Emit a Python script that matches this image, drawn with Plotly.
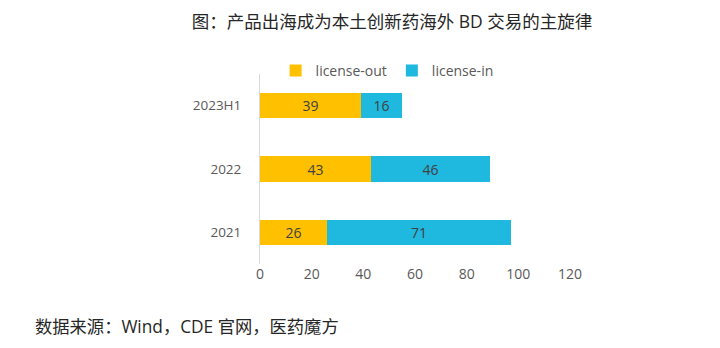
import plotly.graph_objects as go

categories = ["2021", "2022", "2023H1"]
license_out = [26, 43, 39]
license_in = [71, 46, 16]
x_ticks = [0, 20, 40, 60, 80, 100, 120]

FONT = "Open Sans, Noto Sans CJK SC, sans-serif"
LABEL_COLOR = "#404040"

fig = go.Figure()
fig.add_trace(go.Bar(
    y=categories, x=license_out, name="license-out", orientation="h",
    marker=dict(color="#FFC000", line=dict(width=0)),
    text=license_out, textposition="inside", insidetextanchor="middle",
    textfont=dict(size=14, color=LABEL_COLOR, family=FONT),
))
fig.add_trace(go.Bar(
    y=categories, x=license_in, name="license-in", orientation="h",
    marker=dict(color="#1FB8DF", line=dict(width=0)),
    text=license_in, textposition="inside", insidetextanchor="middle",
    textfont=dict(size=14, color=LABEL_COLOR, family=FONT),
))

fig.update_layout(
    width=720, height=348,
    barmode="stack", bargap=0.6,
    paper_bgcolor="white", plot_bgcolor="white",
    margin=dict(l=260, r=150, t=74, b=84),
    font=dict(family=FONT, size=14, color="#595959"),
    showlegend=True,
    legend=dict(orientation="h", x=0.41, xanchor="center", y=(264-71)/190, yanchor="middle",
                font=dict(size=14, color="#595959"), traceorder="normal",
                itemwidth=30, tracegroupgap=0),
    title=dict(text="图：产品出海成为本土创新药海外 BD 交易的主旋律",
               x=392/720, xanchor="center", y=1-22/348, yanchor="middle",
               font=dict(size=17.5, color="#262626", family=FONT)),
    xaxis=dict(range=[0, 120], tickvals=x_ticks, showgrid=False, zeroline=False,
               showline=False, ticks="", tickfont=dict(size=14, color="#595959")),
    yaxis=dict(showgrid=False, zeroline=False, showline=True, linecolor="#d9d9d9",
               linewidth=1, ticks="", ticklabelstandoff=15,
               tickfont=dict(size=13.5, color="#595959")),
    uniformtext=dict(mode=False),
)
fig.add_annotation(text="数据来源：Wind，CDE 官网，医药魔方", xref="paper", yref="paper",
                   x=-(260-33)/310, xanchor="left", y=-(326-264)/190, yanchor="middle",
                   showarrow=False, font=dict(size=17.3, color="#262626", family=FONT))

fig.write_html("out.html")
